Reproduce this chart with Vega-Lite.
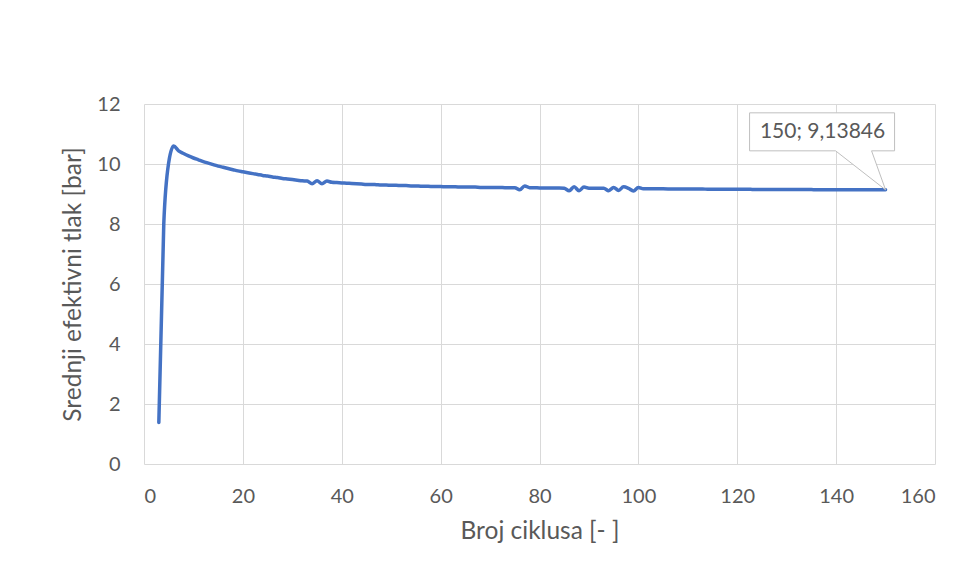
{
  "$schema": "https://vega.github.io/schema/vega-lite/v6.json",
  "width": 791,
  "height": 360,
  "autosize": {"type": "none"},
  "padding": {"left": 144, "top": 104, "right": 22, "bottom": 119},
  "background": "#ffffff",
  "config": {
    "view": {"stroke": null},
    "font": "Lato",
    "axis": {
      "gridColor": "#d9d9d9",
      "gridWidth": 1,
      "ticks": false,
      "domain": false,
      "labelColor": "#595959",
      "labelFont": "Lato",
      "labelFontSize": 20,
      "titleColor": "#595959",
      "titleFont": "Lato",
      "titleFontSize": 24.5,
      "titleFontWeight": "normal"
    }
  },
  "datasets": {
    "series": [
      {"cycle": 3, "p": 1.38}, {"cycle": 4, "p": 8.0}, {"cycle": 5, "p": 10.05}, {"cycle": 6, "p": 10.6},
      {"cycle": 7, "p": 10.44}, {"cycle": 8, "p": 10.35}, {"cycle": 9, "p": 10.27}, {"cycle": 10, "p": 10.2},
      {"cycle": 11, "p": 10.14}, {"cycle": 12, "p": 10.08}, {"cycle": 13, "p": 10.03}, {"cycle": 14, "p": 9.98},
      {"cycle": 15, "p": 9.93}, {"cycle": 16, "p": 9.89}, {"cycle": 17, "p": 9.85}, {"cycle": 18, "p": 9.81},
      {"cycle": 19, "p": 9.77}, {"cycle": 20, "p": 9.74}, {"cycle": 21, "p": 9.71}, {"cycle": 22, "p": 9.68},
      {"cycle": 23, "p": 9.65}, {"cycle": 24, "p": 9.62}, {"cycle": 25, "p": 9.6}, {"cycle": 26, "p": 9.57},
      {"cycle": 27, "p": 9.55}, {"cycle": 28, "p": 9.52}, {"cycle": 29, "p": 9.5}, {"cycle": 30, "p": 9.48},
      {"cycle": 31, "p": 9.46}, {"cycle": 32, "p": 9.44}, {"cycle": 33, "p": 9.43}, {"cycle": 34, "p": 9.34},
      {"cycle": 35, "p": 9.44}, {"cycle": 36, "p": 9.34}, {"cycle": 37, "p": 9.43}, {"cycle": 38, "p": 9.39},
      {"cycle": 39, "p": 9.38}, {"cycle": 40, "p": 9.37}, {"cycle": 41, "p": 9.36}, {"cycle": 42, "p": 9.35},
      {"cycle": 43, "p": 9.34}, {"cycle": 44, "p": 9.33}, {"cycle": 45, "p": 9.32}, {"cycle": 46, "p": 9.32},
      {"cycle": 47, "p": 9.31}, {"cycle": 48, "p": 9.3}, {"cycle": 49, "p": 9.3}, {"cycle": 50, "p": 9.29},
      {"cycle": 51, "p": 9.29}, {"cycle": 52, "p": 9.28}, {"cycle": 53, "p": 9.28}, {"cycle": 54, "p": 9.27},
      {"cycle": 55, "p": 9.27}, {"cycle": 56, "p": 9.26}, {"cycle": 57, "p": 9.26}, {"cycle": 58, "p": 9.25},
      {"cycle": 59, "p": 9.25}, {"cycle": 60, "p": 9.25}, {"cycle": 61, "p": 9.24}, {"cycle": 62, "p": 9.24},
      {"cycle": 63, "p": 9.24}, {"cycle": 64, "p": 9.23}, {"cycle": 65, "p": 9.23}, {"cycle": 66, "p": 9.23},
      {"cycle": 67, "p": 9.23}, {"cycle": 68, "p": 9.22}, {"cycle": 69, "p": 9.22}, {"cycle": 70, "p": 9.22},
      {"cycle": 71, "p": 9.22}, {"cycle": 72, "p": 9.22}, {"cycle": 73, "p": 9.21}, {"cycle": 74, "p": 9.21},
      {"cycle": 75, "p": 9.21}, {"cycle": 76, "p": 9.14}, {"cycle": 77, "p": 9.27}, {"cycle": 78, "p": 9.21},
      {"cycle": 79, "p": 9.21}, {"cycle": 80, "p": 9.2}, {"cycle": 81, "p": 9.2}, {"cycle": 82, "p": 9.2},
      {"cycle": 83, "p": 9.2}, {"cycle": 84, "p": 9.2}, {"cycle": 85, "p": 9.19}, {"cycle": 86, "p": 9.11},
      {"cycle": 87, "p": 9.24}, {"cycle": 88, "p": 9.11}, {"cycle": 89, "p": 9.23}, {"cycle": 90, "p": 9.19},
      {"cycle": 91, "p": 9.19}, {"cycle": 92, "p": 9.19}, {"cycle": 93, "p": 9.19}, {"cycle": 94, "p": 9.11},
      {"cycle": 95, "p": 9.22}, {"cycle": 96, "p": 9.12}, {"cycle": 97, "p": 9.24}, {"cycle": 98, "p": 9.19},
      {"cycle": 99, "p": 9.1}, {"cycle": 100, "p": 9.22}, {"cycle": 101, "p": 9.175}, {"cycle": 102, "p": 9.174},
      {"cycle": 103, "p": 9.173}, {"cycle": 104, "p": 9.172}, {"cycle": 105, "p": 9.171}, {"cycle": 106, "p": 9.17},
      {"cycle": 107, "p": 9.169}, {"cycle": 108, "p": 9.168}, {"cycle": 109, "p": 9.167}, {"cycle": 110, "p": 9.166},
      {"cycle": 111, "p": 9.165}, {"cycle": 112, "p": 9.164}, {"cycle": 113, "p": 9.163}, {"cycle": 114, "p": 9.162},
      {"cycle": 115, "p": 9.161}, {"cycle": 116, "p": 9.16}, {"cycle": 117, "p": 9.159}, {"cycle": 118, "p": 9.158},
      {"cycle": 119, "p": 9.157}, {"cycle": 120, "p": 9.156}, {"cycle": 121, "p": 9.155}, {"cycle": 122, "p": 9.155},
      {"cycle": 123, "p": 9.154}, {"cycle": 124, "p": 9.153}, {"cycle": 125, "p": 9.152}, {"cycle": 126, "p": 9.152},
      {"cycle": 127, "p": 9.151}, {"cycle": 128, "p": 9.15}, {"cycle": 129, "p": 9.15}, {"cycle": 130, "p": 9.149},
      {"cycle": 131, "p": 9.148}, {"cycle": 132, "p": 9.148}, {"cycle": 133, "p": 9.147}, {"cycle": 134, "p": 9.146},
      {"cycle": 135, "p": 9.146}, {"cycle": 136, "p": 9.145}, {"cycle": 137, "p": 9.145}, {"cycle": 138, "p": 9.144},
      {"cycle": 139, "p": 9.144}, {"cycle": 140, "p": 9.143}, {"cycle": 141, "p": 9.143}, {"cycle": 142, "p": 9.142},
      {"cycle": 143, "p": 9.142}, {"cycle": 144, "p": 9.141}, {"cycle": 145, "p": 9.141}, {"cycle": 146, "p": 9.14},
      {"cycle": 147, "p": 9.14}, {"cycle": 148, "p": 9.139}, {"cycle": 149, "p": 9.139}, {"cycle": 150, "p": 9.13846}
    ],
    "callout": [
      {"cycle": 150, "p": 9.13846, "label": "150; 9,13846"}
    ]
  },
  "encoding": {
    "x": {
      "field": "cycle",
      "type": "quantitative",
      "scale": {"domain": [0, 160], "nice": false, "zero": false},
      "axis": {
        "values": [0, 20, 40, 60, 80, 100, 120, 140, 160],
        "title": "Broj ciklusa [- ]",
        "labelPadding": 22,
        "titlePadding": 13
      }
    },
    "y": {
      "field": "p",
      "type": "quantitative",
      "scale": {"domain": [0, 12], "nice": false},
      "axis": {
        "values": [0, 2, 4, 6, 8, 10, 12],
        "title": "Srednji efektivni tlak [bar]",
        "labelPadding": 24,
        "titlePadding": 11
      }
    }
  },
  "layer": [
    {
      "data": {"name": "series"},
      "mark": {"type": "line", "color": "#4472c4", "strokeWidth": 3.5, "interpolate": "monotone", "strokeCap": "round", "strokeJoin": "round"}
    },
    {
      "data": {"name": "callout"},
      "mark": {
        "type": "point",
        "shape": "M -1 -0.5662 L 0.0662 -0.5662 L 0.0662 -0.2868 L -0.1029 -0.2868 L 0 0 L -0.3676 -0.2868 L -1 -0.2868 Z",
        "size": 73984,
        "filled": true,
        "fill": "#ffffff",
        "fillOpacity": 1,
        "stroke": "#bfbfbf",
        "strokeWidth": 1,
        "opacity": 1
      }
    },
    {
      "data": {"name": "callout"},
      "mark": {"type": "text", "dx": -63, "dy": -58, "align": "center", "baseline": "middle", "font": "Lato", "fontSize": 21, "color": "#595959"},
      "encoding": {"text": {"field": "label"}}
    }
  ]
}
